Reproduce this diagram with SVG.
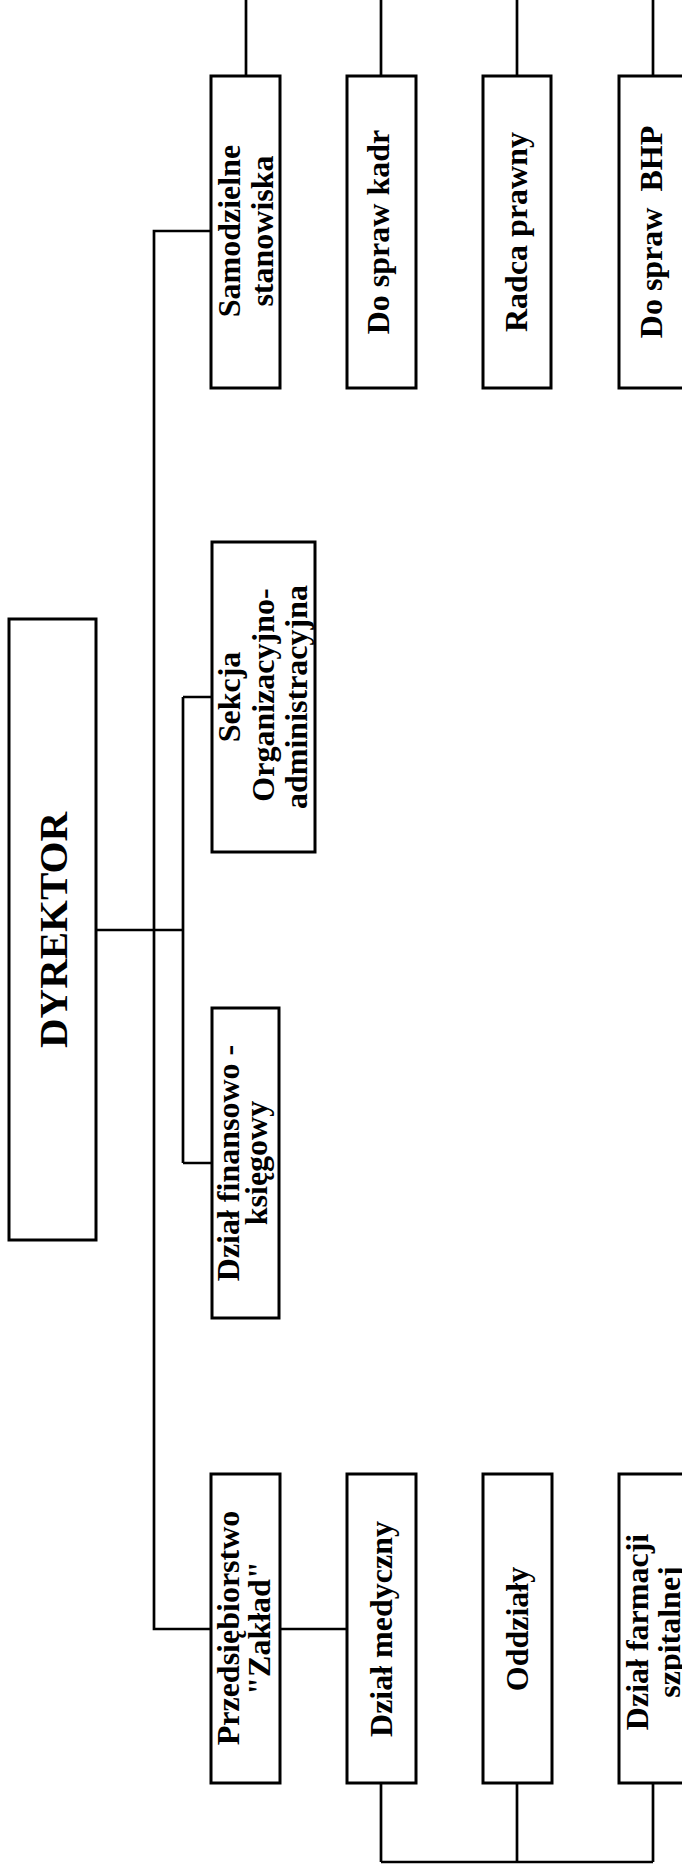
<svg xmlns="http://www.w3.org/2000/svg" width="682" height="1872" viewBox="0 0 682 1872">
<style>
.box{fill:#fff;stroke:#000;stroke-width:3}
.ln{fill:none;stroke:#000;stroke-width:2.7}
text{font-family:"Liberation Serif","Times New Roman",serif;font-weight:bold;font-size:32px;text-anchor:middle;fill:#000;white-space:pre}
.big{font-size:41px}
</style>
<rect width="682" height="1872" fill="#fff"/>
<g id="connectors">
<path class="ln" d="M96 930H183M183 697V1163M183 697H212M183 1163H212"/>
<path class="ln" d="M211 231H154V1629H211M280 1629H347"/>
<path class="ln" d="M246 0V76M381 0V76M517 0V76M653 0V76"/>
<path class="ln" d="M381 1783V1862M517 1783V1862M653 1783V1862M381 1862H653"/>
</g>
<g id="n-dyrektor">
<rect class="box" x="9" y="619" width="87" height="621"/>
<text class="big" transform="translate(67,930) rotate(-90)">DYREKTOR</text>
</g>
<g id="n-sekcja">
<rect class="box" x="212" y="542" width="103" height="310"/>
<text transform="translate(240,697) rotate(-90)">Sekcja</text>
<text transform="translate(274,695) rotate(-90)">Organizacyjno-</text>
<text transform="translate(307,697) rotate(-90)">administracyjna</text>
</g>
<g id="n-finansowy">
<rect class="box" x="212" y="1008" width="67" height="310"/>
<text transform="translate(239,1163) rotate(-90)">Dział finansowo -</text>
<text transform="translate(267,1163) rotate(-90)">księgowy</text>
</g>
<g id="n-samodzielne">
<rect class="box" x="211" y="76" width="69" height="312"/>
<text transform="translate(240,231) rotate(-90)">Samodzielne</text>
<text transform="translate(273,231) rotate(-90)">stanowiska</text>
</g>
<g id="n-kadr">
<rect class="box" x="347" y="76" width="69" height="312"/>
<text transform="translate(389,232) rotate(-90)">Do spraw kadr</text>
</g>
<g id="n-radca">
<rect class="box" x="483" y="76" width="68" height="312"/>
<text transform="translate(527,232) rotate(-90)">Radca prawny</text>
</g>
<g id="n-bhp">
<rect class="box" x="619" y="76" width="69" height="312"/>
<text transform="translate(662,232) rotate(-90)">Do spraw  BHP</text>
</g>
<g id="n-przedsiebiorstwo">
<rect class="box" x="211" y="1474" width="69" height="309"/>
<text transform="translate(239,1628) rotate(-90)">Przedsiębiorstwo</text>
<text transform="translate(270,1628) rotate(-90)">"Zakład"</text>
</g>
<g id="n-medyczny">
<rect class="box" x="347" y="1474" width="69" height="309"/>
<text transform="translate(392,1629) rotate(-90)">Dział medyczny</text>
</g>
<g id="n-oddzialy">
<rect class="box" x="483" y="1474" width="69" height="309"/>
<text transform="translate(528,1629) rotate(-90)">Oddziały</text>
</g>
<g id="n-farmacja">
<rect class="box" x="619" y="1474" width="69" height="309"/>
<text transform="translate(648,1632) rotate(-90)">Dział farmacji</text>
<text transform="translate(680,1632) rotate(-90)">szpitalnej</text>
</g>
</svg>
